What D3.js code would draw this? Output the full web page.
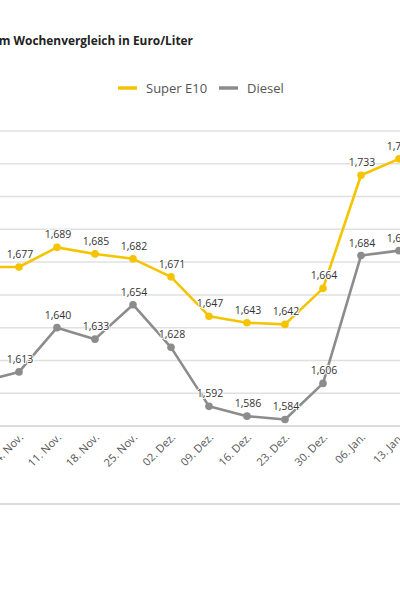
<!DOCTYPE html>
<html>
<head>
<meta charset="utf-8">
<script src="https://cdn.jsdelivr.net/npm/d3@7"></script>
<style>
  body { margin: 0; background: #fff; }
  svg { display: block; font-family: "Open Sans", sans-serif; }
</style>
</head>
<body>
<div id="chart"></div>
<script>
// Weekly dates (the view is cropped: first and last weeks are partly outside)
var weeks = ["28. Okt.", "04. Nov.", "11. Nov.", "18. Nov.", "25. Nov.", "02. Dez.",
             "09. Dez.", "16. Dez.", "23. Dez.", "30. Dez.", "06. Jan.", "13. Jan."];
var superE10 = [1.677, 1.677, 1.689, 1.685, 1.682, 1.671, 1.647, 1.643, 1.642, 1.664, 1.733, 1.743];
var diesel   = [1.607, 1.613, 1.640, 1.633, 1.654, 1.628, 1.592, 1.586, 1.584, 1.606, 1.684, 1.687];
var yTicks = [1.58, 1.60, 1.62, 1.64, 1.66, 1.68, 1.70, 1.72, 1.74, 1.76];

var series = [
  { name: "Super E10", values: superE10, color: "#f5c400" },
  { name: "Diesel", values: diesel, color: "#8c8c8c" }
];

var width = 400, height = 600;
var fmt = function(v) { return d3.format(".3f")(v).replace(".", ","); };

var svg = d3.select("#chart").append("svg")
    .attr("width", width)
    .attr("height", height);

// scales (plot extends beyond the visible crop on both sides)
var x = d3.scalePoint().domain(weeks).range([-19, 399]);
var y = d3.scaleLinear().domain([1.58, 1.76]).range([426, 131]);

// title (left part cut off by the crop)
svg.append("text")
    .attr("x", 193)
    .attr("y", 45)
    .attr("text-anchor", "end")
    .style("font-size", "11.9px")
    .style("font-weight", "bold")
    .style("fill", "#222")
    .text("Spritpreise im Wochenvergleich in Euro/Liter");

// legend
var legendPos = [118, 219];
var legend = svg.selectAll(".legend").data(series).enter().append("g")
    .attr("class", "legend")
    .attr("transform", (d, i) => "translate(" + legendPos[i] + ",88)");
legend.append("line")
    .attr("x1", 0).attr("x2", 19)
    .attr("stroke", d => d.color)
    .attr("stroke-width", 3.5);
legend.append("text")
    .attr("x", 28)
    .attr("dy", "0.35em")
    .style("font-size", "13px")
    .style("fill", "#555")
    .text(d => d.name);

// gridlines
svg.append("g").selectAll("line").data(yTicks).enter().append("line")
    .attr("x1", 0).attr("x2", width)
    .attr("y1", d => y(d)).attr("y2", d => y(d))
    .attr("stroke", (d, i) => i === 0 ? "#d0d0d0" : "#e0e0e0")
    .attr("stroke-width", 1.5);

// x axis labels
svg.append("g").selectAll("text").data(weeks).enter().append("text")
    .attr("transform", d => "translate(" + (x(d) + 5) + ",438) rotate(-45)")
    .attr("text-anchor", "end")
    .style("font-size", "11px")
    .style("fill", "#555")
    .text(d => d);

// separator below chart
svg.append("line")
    .attr("x1", 0).attr("x2", width)
    .attr("y1", 504).attr("y2", 504)
    .attr("stroke", "#d0d0d0")
    .attr("stroke-width", 1.5);

var line = d3.line()
    .x((d, i) => x(weeks[i]))
    .y(d => y(d));

var groups = svg.selectAll(".series").data(series).enter().append("g")
    .attr("class", "series");

groups.append("path")
    .attr("d", d => line(d.values))
    .attr("fill", "none")
    .attr("stroke", d => d.color)
    .attr("stroke-width", 2.6)
    .attr("stroke-linejoin", "round");

groups.selectAll("circle").data(d => d.values.map(v => ({ v: v, c: d.color })))
    .enter().append("circle")
    .attr("cx", (d, i) => x(weeks[i]))
    .attr("cy", d => y(d.v))
    .attr("r", 3.8)
    .attr("fill", d => d.c);

groups.selectAll(".val").data(d => d.values)
    .enter().append("text")
    .attr("class", "val")
    .attr("x", (d, i) => x(weeks[i]) + 1)
    .attr("y", d => y(d) - 9)
    .attr("text-anchor", "middle")
    .style("font-size", "10.5px")
    .style("fill", "#333")
    .style("paint-order", "stroke")
    .style("stroke", "#fff")
    .style("stroke-width", "2px")
    .text(d => fmt(d));
</script>
</body>
</html>
